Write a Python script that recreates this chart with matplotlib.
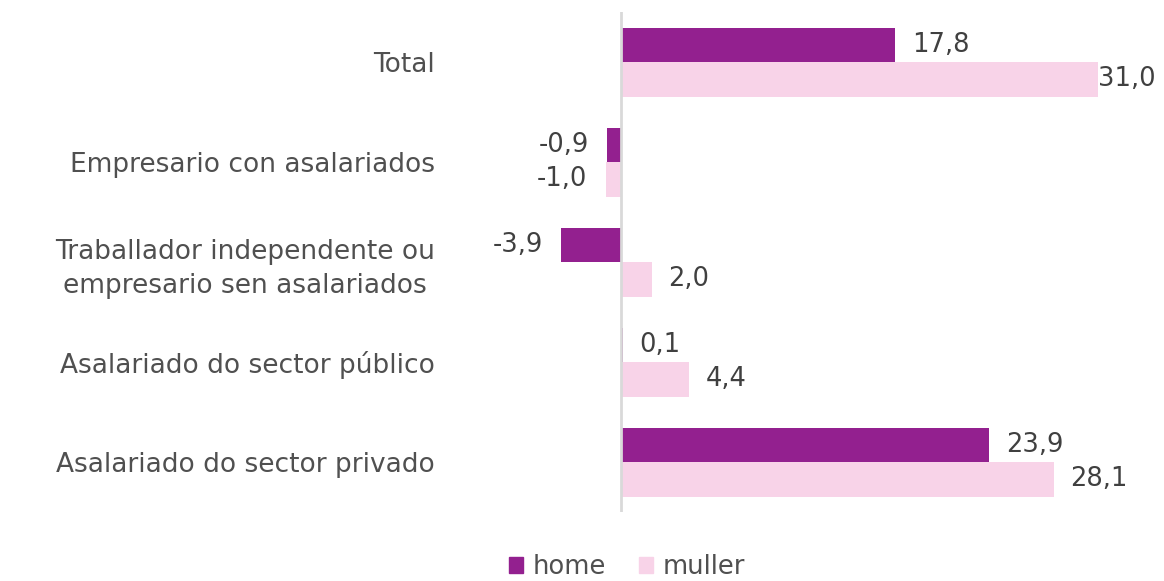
import matplotlib
matplotlib.use("Agg")
import matplotlib.pyplot as plt
import numpy as np
from matplotlib.patches import Patch

# data
categories = ["Total", "Empresario con asalariados",
              "Traballador independente ou\nempresario sen asalariados",
              "Asalariado do sector público", "Asalariado do sector privado"]
home = [17.8, -0.9, -3.9, 0.1, 23.9]
muller = [31.0, -1.0, 2.0, 4.4, 28.1]

c_home = "#93208F"
c_muller = "#F8D3E8"
txt = "#404040"
lab = "#505050"

plt.rcParams['font.family'] = ['DejaVu Sans']

fig = plt.figure(figsize=(11.64, 5.81), dpi=100)
ax = fig.add_axes([460/1164, 1 - 512/581, (1150-460)/1164, 500/581])

y = np.arange(len(categories))
h = 0.345
ax.barh(y - h/2, home, height=h, color=c_home)
ax.barh(y + h/2, muller, height=h, color=c_muller)

ax.set_xlim((460-621)/15.4, (1150-621)/15.4)
ax.set_ylim(4.5, -0.5)
ax.axvline(0, color="#d9d9d9", lw=2)

def fmt(v):
    return f"{v:.1f}".replace(".", ",")

for vals, off in ((home, -h/2), (muller, h/2)):
    for i, v in enumerate(vals):
        gap = 12 if v >= 0 else -13
        if v == 31.0:
            gap = 0
        ax.annotate(fmt(v), (v, i + off), xytext=(gap, 0), textcoords="offset points",
                    ha="left" if v >= 0 else "right", va="center",
                    fontsize=18.5, color=txt)

ax.set_yticks(y)
ax.set_yticklabels(categories, fontsize=19, color=lab, multialignment="center",
                   linespacing=1.4)
ax.tick_params(axis="y", length=0, pad=18)
ax.set_xticks([])
for s in ax.spines.values():
    s.set_visible(False)

handles = [Patch(color=c_home, label="home"), Patch(color=c_muller, label="muller")]
fig.legend(handles=handles, loc="center", bbox_to_anchor=(627/1164, 1 - 567/581),
           ncol=2, frameon=False, fontsize=18.5, labelcolor=lab,
           handlelength=0.55, handleheight=0.55, handletextpad=0.35, columnspacing=1.3)

fig.savefig("out.png", dpi=100)
